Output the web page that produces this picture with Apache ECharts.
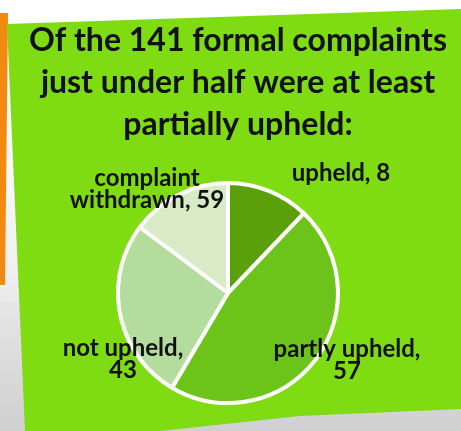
<!DOCTYPE html>
<html>
<head>
<meta charset="utf-8">
<script src="https://cdn.jsdelivr.net/npm/echarts@6/dist/echarts.min.js"></script>
<style>
html,body{margin:0;padding:0;background:#fff;}
#chart{width:461px;height:431px;}
</style>
</head>
<body>
<div id="chart"></div>
<script>
// Data
const titleLines = ['Of the 141 formal complaints', 'just under half were at least', 'partially upheld:'];
const categories = ['upheld', 'partly upheld', 'not upheld', 'complaint\nwithdrawn'];
// counts printed on the labels
const labelCounts = [8, 57, 43, 59];
// slice sizes as drawn in the picture (share of the circle, %)
const sliceShares = [12.1, 46.4, 26.7, 14.8];
const labelSep = [', ', ',\n', ',\n', ', '];

// styling / layout (not data)
const sliceColors = ['#5b9f0b', '#6cc319', '#b4dc9c', '#d9ebc6'];
const labelPos = [[341, 173], [347, 360], [123, 359], [147, 189]];

const chart = echarts.init(document.getElementById('chart'));
const option = {
  animation: false,
  backgroundColor: {
    type: 'linear', x: 0, y: 0, x2: 0, y2: 1,
    colorStops: [{offset: 0, color: '#ffffff'}, {offset: 0.6, color: '#f2f2f2'}, {offset: 1, color: '#cfcfcf'}]
  },
  graphic: [
    { type: 'polygon', z: -10, silent: true,
      shape: { points: [[0, 13], [8, 13], [5, 285], [0, 285]] },
      style: { fill: '#f28a12' } },
    { type: 'polygon', z: -10, silent: true,
      shape: { points: [[0, 300], [461, 390], [461, 431], [0, 431]] },
      style: { fill: {type: 'linear', x: 0, y: 0, x2: 0, y2: 1,
        colorStops: [{offset: 0, color: '#e6e6e6'}, {offset: 1, color: '#d0d0d0'}]} } },
    { type: 'polygon', z: -5, silent: true,
      shape: { points: [[7, 24], [461, 9], [461, 409], [300, 416], [160, 431], [25, 431]] },
      style: { fill: '#7fdb12' } }
  ],
  title: {
    text: titleLines.join('\n'),
    left: 233,
    top: 15,
    textAlign: 'center',
    textStyle: {
      fontFamily: 'Lato',
      fontWeight: 'bold',
      fontSize: 32,
      lineHeight: 42,
      color: '#111111'
    }
  },
  series: [{
    type: 'pie',
    center: [228, 293],
    radius: 110,
    startAngle: 90,
    clockwise: true,
    avoidLabelOverlap: false,
    itemStyle: { borderColor: '#ffffff', borderWidth: 4 },
    label: {
      show: true,
      position: 'outside',
      fontFamily: 'Lato',
      fontWeight: 'bold',
      fontSize: 24,
      lineHeight: 22,
      color: '#111111',
      align: 'center',
      formatter: function (p) {
        return p.name + labelSep[p.dataIndex] + labelCounts[p.dataIndex];
      }
    },
    labelLine: { show: false },
    labelLayout: function (p) {
      const pos = labelPos[p.dataIndex];
      return { x: pos[0], y: pos[1], align: 'center', verticalAlign: 'middle' };
    },
    data: categories.map(function (c, i) {
      return { name: c, value: sliceShares[i], itemStyle: { color: sliceColors[i] } };
    })
  }]
};
chart.setOption(option);
</script>
</body>
</html>
